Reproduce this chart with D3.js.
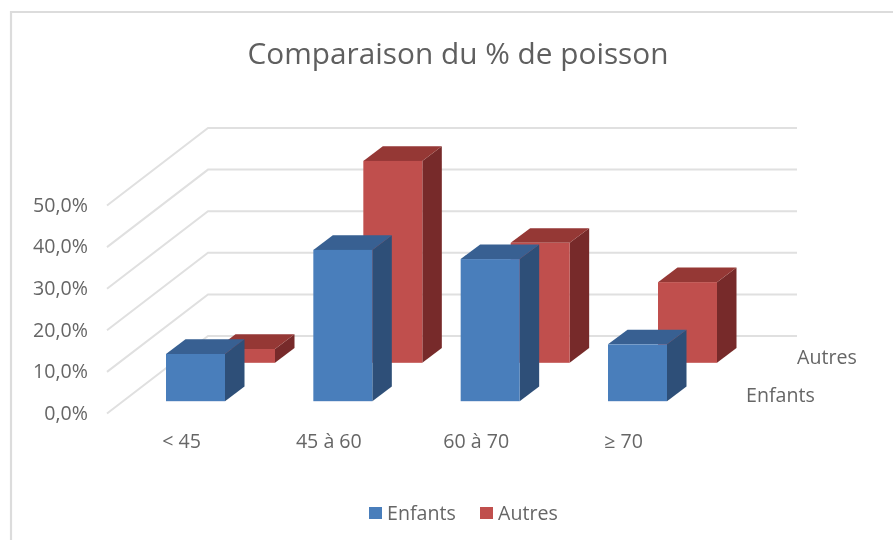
<!DOCTYPE html>
<html><head><meta charset="utf-8">
<script src="https://cdn.jsdelivr.net/npm/d3@7/dist/d3.min.js"></script>
<style>
html,body{margin:0;padding:0;background:#fff;overflow:hidden}
text{font-family:"Open Sans",sans-serif;fill:#666}
</style></head><body>
<script>
const title = "Comparaison du % de poisson";
const categories = ["< 45", "45 à 60", "60 à 70", "≥ 70"];
const seriesNames = ["Enfants", "Autres"];
const enfants = [11.3, 36.2, 34.0, 13.6];
const autres = [3.3, 48.3, 28.7, 19.3];
const yTicks = [0, 10, 20, 30, 40, 50];

const W = 893, H = 540;
const svg = d3.select("body").append("svg").attr("width", W).attr("height", H);
const defs = svg.append("defs");
const f = defs.append("filter").attr("id","soft").attr("filterUnits","userSpaceOnUse").attr("x",0).attr("y",0).attr("width",W).attr("height",H);
f.append("feGaussianBlur").attr("stdDeviation",0.7);
const root = svg.append("g").attr("filter","url(#soft)");

// frame
root.append("path").attr("d",`M893,12 H11 V540`).attr("fill","none").attr("stroke","#dcdcdc").attr("stroke-width",2.2);

root.append("text").attr("x",458).attr("y",64).attr("text-anchor","middle")
  .attr("font-size",28.5).attr("textLength",421).attr("lengthAdjust","spacingAndGlyphs").style("fill","#5f5f5f").text(title);

// scales
const yFront = d3.scaleLinear().domain([0,50]).range([413.5,205.5]);
const h = d3.scaleLinear().domain([0,50]).range([0,209]);
const cx = d3.scalePoint().domain(categories).range([181,623]);
const backDx = 101, backDy = -77.5, rightEnd = 797;

// gridlines (side wall + back wall)
const grid = root.append("g").attr("fill","none").attr("stroke","#e0e0e0").attr("stroke-width",2);
yTicks.forEach(t=>{
  const y0 = yFront(t);
  grid.append("path").attr("d",`M107,${y0} L${107+backDx},${y0+backDy} H${rightEnd}`);
});

// y axis
const fs = 19.6;
const yAxis = d3.axisLeft(yFront).tickValues(yTicks).tickSize(0).tickPadding(0)
  .tickFormat(d=>d3.format(".1f")(d).replace(".",",")+"%");
const ya = root.append("g").attr("transform","translate(88,-0.5)").call(yAxis);
ya.select(".domain").remove();
ya.selectAll("text").attr("font-size",fs).style("fill","#666");

// x axis
const xAxis = d3.axisBottom(cx).tickSize(0).tickPadding(0);
const xa = root.append("g").attr("transform","translate(0,434)").call(xAxis);
xa.select(".domain").remove();
xa.selectAll("text").attr("font-size",fs).style("fill","#666");

// 3D bars
const barW = 59, depthX = 19.5, depthY = 14.7;
const seriesCfg = [
  {values:autres, base:362.8, off:35, front:"#c0504d", top:"#953735", side:"#772c2a"},
  {values:enfants, base:401.2, off:-15, front:"#4a7ebb", top:"#376092", side:"#2f5078"}
];
seriesCfg.forEach(s=>{
  const g = root.append("g");
  const bars = g.selectAll("g").data(categories.map((c,i)=>({c,v:s.values[i]}))).join("g");
  const X = d=>cx(d.c)+s.off, T = d=>s.base-h(d.v);
  bars.append("path").attr("fill",s.side)
    .attr("d",d=>`M${X(d)+barW},${T(d)} l${depthX},${-depthY} V${s.base-depthY} l${-depthX},${depthY} Z`);
  bars.append("path").attr("fill",s.top)
    .attr("d",d=>`M${X(d)},${T(d)} l${depthX},${-depthY} h${barW} l${-depthX},${depthY} Z`);
  bars.append("rect").attr("fill",s.front).attr("x",X).attr("y",T).attr("width",barW).attr("height",d=>h(d.v));
});

// depth axis labels
const depthLabel = d3.scalePoint().domain(seriesNames).range([746,797]);
const depthY2 = d3.scalePoint().domain(seriesNames).range([402,364]);
root.append("g").selectAll("text").data(seriesNames).join("text")
  .attr("x",d=>depthLabel(d)).attr("y",d=>depthY2(d)).attr("font-size",fs).text(d=>d);

// legend
const legendX = d3.scalePoint().domain(seriesNames).range([369,480]);
const legendColors = d3.scaleOrdinal().domain(seriesNames).range(["#4a7ebb","#c0504d"]);
const lg = root.append("g").selectAll("g").data(seriesNames).join("g")
  .attr("transform",d=>`translate(${legendX(d)},507)`);
lg.append("rect").attr("width",13).attr("height",12).attr("fill",d=>legendColors(d));
lg.append("text").attr("x",18).attr("y",13).attr("font-size",fs).text(d=>d);
</script>
</body></html>
